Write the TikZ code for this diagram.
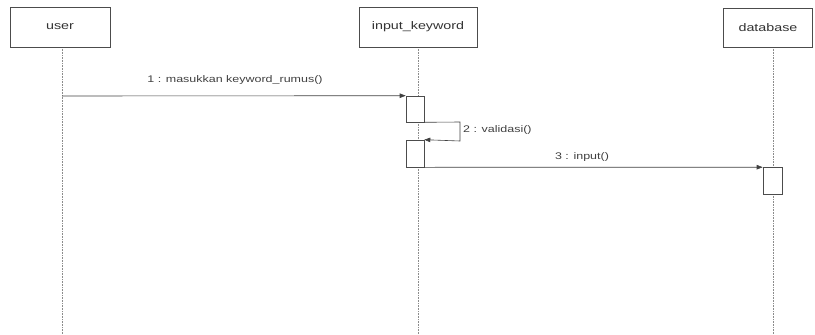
\documentclass[tikz,border=0pt]{standalone}
\usepackage{fontspec}
\setmainfont{Liberation Sans}
\newfontfamily\widesans[FakeStretch=1.3]{Liberation Sans}
\usetikzlibrary{arrows.meta}
\begin{document}
\begin{tikzpicture}[x=1pt,y=-1pt,
  obj/.style={draw=black!70,line width=0.6pt,fill=white,inner sep=0pt,text=black!80,font=\widesans\fontsize{11}{13}\selectfont},
  lifeline/.style={draw=black!45,densely dotted,line width=0.6pt},
  act/.style={draw=black!70,line width=0.6pt,fill=white,inner sep=0pt},
  msg/.style={draw=black!75,line width=0.6pt,-{Triangle[length=6pt,width=4.5pt]}},
  lbl/.style={font=\widesans\fontsize{9.6}{11}\selectfont,text=black!75,inner sep=0pt}]
\useasboundingbox (0,0) rectangle (815,335);
% lifelines
\coordinate (uTop) at (62,47);   \coordinate (uBot) at (62,335);
\coordinate (kTop) at (418,47);  \coordinate (kBot) at (418,335);
\coordinate (dTop) at (773,47);  \coordinate (dBot) at (773,335);
\draw[lifeline] (uTop) -- (uBot);
\draw[lifeline] (kTop) -- (kBot);
\draw[lifeline] (dTop) -- (dBot);
% objects
\node[obj,minimum width=100pt,minimum height=40pt] (user) at (60,27) {user};
\node[obj,minimum width=118pt,minimum height=40pt] (kw) at (418,27) {input\_keyword};
\node[obj,minimum width=89pt,minimum height=39pt] (db) at (768,27.5) {database};
% activation bars
\node[act,minimum width=18pt,minimum height=26pt] (a1) at (415,109) {};
\node[act,minimum width=18pt,minimum height=27pt] (a2) at (415,153.5) {};
\node[act,minimum width=19pt,minimum height=27pt] (a3) at (772.5,181) {};
% message 1
\coordinate (m1s) at (62,96);
\draw[msg] (m1s) -- (a1.north west);
\node[lbl] (l1) at (235,80) {1 : masukkan keyword\_rumus()};
% message 2 (self call)
\coordinate (s1) at (460,122);
\coordinate (s2) at (460,141);
\draw[msg] (a1.south east) -- (s1) -- (s2) -- (a2.north east);
\node[lbl,anchor=west] (l2) at (463,130) {2 : validasi()};
% message 3
\draw[msg] (a2.south east) -- (a3.north west);
\node[lbl] (l3) at (582,157) {3 : input()};
\end{tikzpicture}
\end{document}
